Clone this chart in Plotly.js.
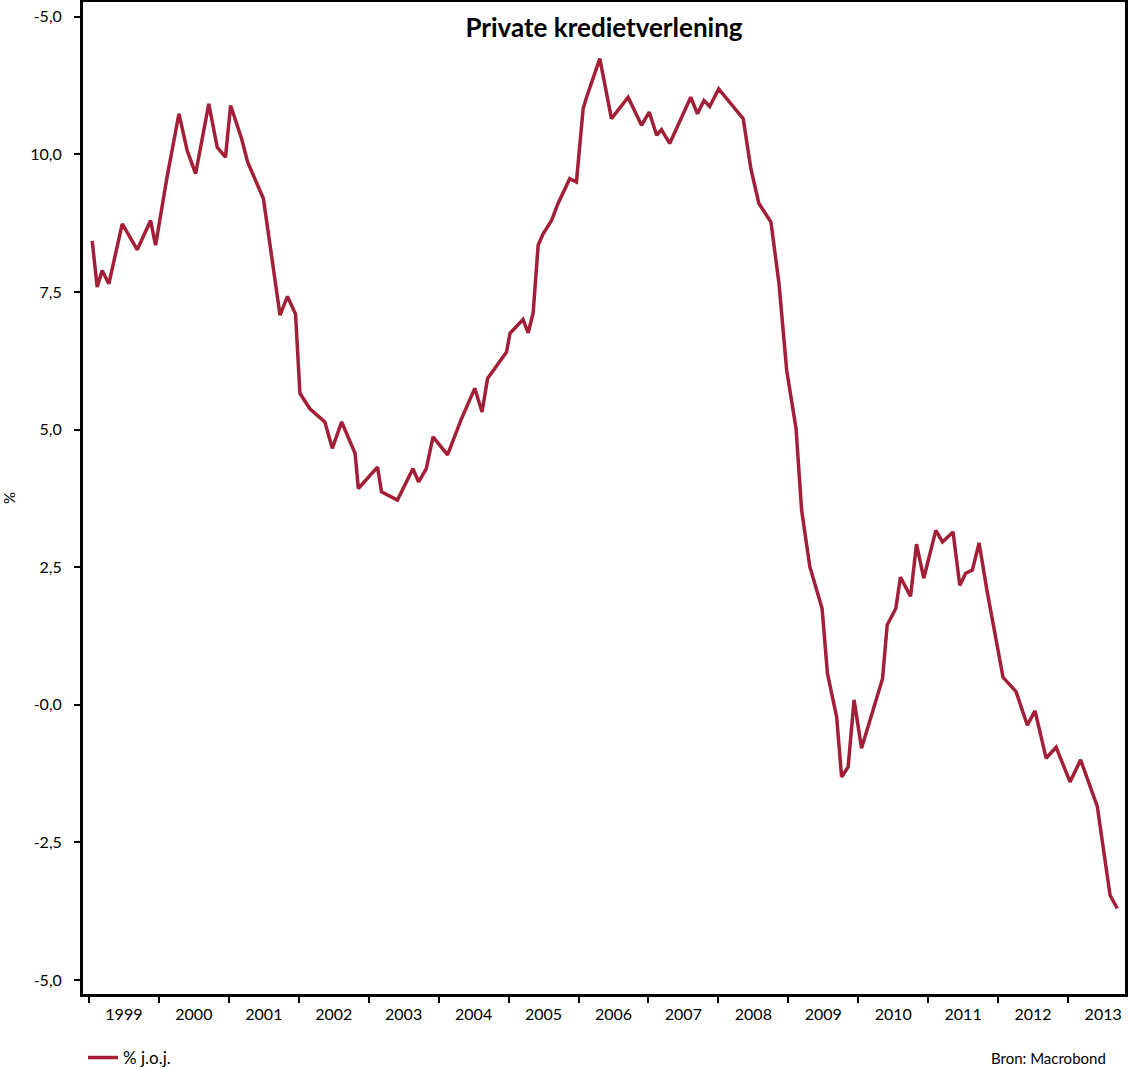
<!DOCTYPE html>
<html>
<head>
<meta charset="utf-8">
<script src="https://cdn.plot.ly/plotly-3.0.1.min.js"></script>
<style>
  html, body { margin: 0; padding: 0; background: #ffffff; }
  #chart { width: 1128px; height: 1069px; }
</style>
</head>
<body>
<div id="chart"></div>
<script>
// Private kredietverlening, % j.o.j.
const dates = [
  "1999-01-18","1999-02-13","1999-03-11","1999-04-15","1999-06-24","1999-09-10","1999-11-19","1999-12-15",
  "2000-02-12","2000-04-15","2000-05-28","2000-07-11","2000-09-18","2000-11-01","2000-12-14",
  "2001-01-10","2001-03-08","2001-04-09","2001-06-30","2001-09-25","2001-11-03","2001-12-15",
  "2002-01-07","2002-02-28","2002-05-17","2002-06-25","2002-08-13","2002-10-22","2002-11-08",
  "2003-02-16","2003-03-09","2003-05-31","2003-08-20","2003-09-19","2003-10-29","2003-12-03",
  "2004-02-17","2004-04-26","2004-07-08","2004-08-15","2004-09-13","2004-12-21",
  "2005-01-08","2005-03-17","2005-04-13","2005-05-09","2005-06-04","2005-06-30","2005-08-13","2005-09-16","2005-11-16","2005-12-21",
  "2006-01-25","2006-02-12","2006-04-22","2006-06-22","2006-09-17","2006-11-26",
  "2007-01-05","2007-02-13","2007-03-10","2007-04-22","2007-08-10","2007-09-14","2007-10-18","2007-11-17",
  "2008-01-03","2008-05-10","2008-06-19","2008-07-31","2008-10-02","2008-11-13","2008-12-23",
  "2009-02-10","2009-03-11","2009-04-23","2009-06-26","2009-07-24","2009-09-10","2009-10-06","2009-11-09","2009-12-10",
  "2010-01-18","2010-03-19","2010-05-08","2010-06-01","2010-07-16","2010-08-09","2010-10-01","2010-11-01","2010-12-09",
  "2011-02-10","2011-03-17","2011-05-11","2011-06-15","2011-07-16","2011-08-20","2011-09-24","2011-11-04",
  "2012-01-27","2012-04-04","2012-06-02","2012-07-12","2012-09-08","2012-10-30",
  "2013-01-11","2013-03-07","2013-06-02","2013-08-08","2013-09-15"
];
const kredietGroei = [
  8.43, 7.59, 7.89, 7.65, 8.74, 8.27, 8.80, 8.35,
  9.57, 10.74, 10.07, 9.65, 10.92, 10.13, 9.95,
  10.89, 10.29, 9.86, 9.20, 7.08, 7.42, 7.10,
  5.66, 5.38, 5.14, 4.66, 5.14, 4.57, 3.93,
  4.32, 3.87, 3.72, 4.29, 4.05, 4.29, 4.87,
  4.54, 5.17, 5.75, 5.32, 5.93, 6.41,
  6.75, 7.00, 6.76, 7.12, 8.35, 8.56, 8.80, 9.11, 9.56, 9.50,
  10.83, 11.04, 11.74, 10.65, 11.04, 10.53,
  10.77, 10.35, 10.45, 10.20, 11.04, 10.74, 10.98, 10.87,
  11.19, 10.65, 9.74, 9.11, 8.77, 7.65, 6.08,
  5.02, 3.54, 2.51, 1.75, 0.57, -0.22, -1.31, -1.13, 0.09,
  -0.79, -0.10, 0.48, 1.45, 1.75, 2.32, 1.97, 2.92, 2.30,
  3.17, 2.96, 3.14, 2.17, 2.39, 2.45, 2.94, 2.08,
  0.50, 0.24, -0.37, -0.11, -0.97, -0.77,
  -1.40, -1.00, -1.84, -3.46, -3.70
];
const yTickVals = [12.5, 10, 7.5, 5, 2.5, 0, -2.5, -5];
const yTickText = ["-5,0", "10,0", "7,5", "5,0", "2,5", "-0,0", "-2,5", "-5,0"];
const seriesName = "% j.o.j.";
const chartTitle = "Private kredietverlening";
const sourceText = "Bron: Macrobond";

const FONT = "Lato, 'Open Sans', sans-serif";

const trace = {
  type: "scatter",
  mode: "lines",
  x: dates,
  y: kredietGroei,
  name: seriesName,
  line: { color: "#A31F37", width: 3.5 },
  hoverinfo: "x+y"
};

const layout = {
  width: 1128,
  height: 1069,
  margin: { l: 83, r: 3, t: 2, b: 75, pad: 0, autoexpand: false },
  paper_bgcolor: "#ffffff",
  plot_bgcolor: "#ffffff",
  font: { family: FONT, size: 16, color: "#000000" },
  title: {
    text: "<b>" + chartTitle + "</b>",
    font: { family: FONT, size: 26, color: "#000000" },
    xref: "paper", x: 0.5, xanchor: "center",
    yref: "container", y: 1 - 28 / 1069, yanchor: "middle"
  },
  showlegend: true,
  legend: {
    orientation: "h",
    x: 0, xanchor: "left",
    y: -0.0645, yanchor: "middle",
    bgcolor: "rgba(0,0,0,0)",
    font: { family: FONT, size: 17, color: "#000000" },
    itemwidth: 30
  },
  xaxis: {
    type: "date",
    range: ["1998-12-01", "2013-10-25"],
    tick0: "1999-01-01",
    dtick: "M12",
    tickformat: "%Y",
    ticklabelmode: "period",
    ticks: "outside",
    ticklen: 6,
    tickwidth: 2,
    tickcolor: "#000000",
    ticklabelstandoff: -2,
    showline: true,
    linewidth: 3,
    linecolor: "#000000",
    mirror: true,
    showgrid: false,
    zeroline: false,
    tickfont: { family: FONT, size: 16, color: "#000000" },
    automargin: false
  },
  yaxis: {
    range: [-5.254, 12.77],
    tickvals: yTickVals,
    ticktext: yTickText,
    ticks: "outside",
    ticklen: 6,
    tickwidth: 2,
    tickcolor: "#000000",
    ticklabelstandoff: 9,
    showline: true,
    linewidth: 3,
    linecolor: "#000000",
    mirror: true,
    showgrid: false,
    zeroline: false,
    tickfont: { family: FONT, size: 16, color: "#000000" },
    title: { text: "%", font: { family: FONT, size: 15, color: "#000000" }, standoff: 12 },
    automargin: false
  },
  annotations: [
    {
      text: sourceText,
      xref: "paper", x: 1, xanchor: "right", xshift: -17,
      yref: "paper", y: -0.0645, yanchor: "middle",
      showarrow: false,
      font: { family: FONT, size: 15, color: "#000000" }
    }
  ]
};

Plotly.newPlot("chart", [trace], layout, { displayModeBar: false, staticPlot: true });
</script>
</body>
</html>
